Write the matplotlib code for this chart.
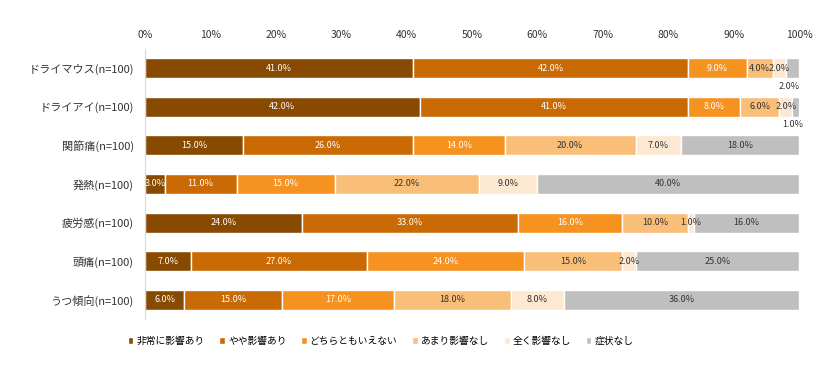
import numpy as np
import matplotlib.pyplot as plt

plt.rcParams['font.family'] = ['Noto Sans CJK JP', 'DejaVu Sans']

# rows (top to bottom)
rows = ['ドライマウス(n=100)', 'ドライアイ(n=100)', '関節痛(n=100)', '発熱(n=100)',
        '疲労感(n=100)', '頭痛(n=100)', 'うつ傾向(n=100)']
series = ['非常に影響あり', 'やや影響あり', 'どちらともいえない', 'あまり影響なし', '全く影響なし', '症状なし']

very = [41, 42, 15, 3, 24, 7, 6]
some = [42, 41, 26, 11, 33, 27, 15]
neither = [9, 8, 14, 15, 16, 24, 17]
little = [4, 6, 20, 22, 10, 15, 18]
none = [2, 2, 7, 9, 1, 2, 8]
nosym = [2, 1, 18, 40, 16, 25, 36]

colors = ['#874A00', '#C96A05', '#F59220', '#F9BE78', '#FDE8D2', '#BFBFBF']
txt_colors = ['white', 'white', 'white', '#333333', '#333333', '#333333']

data = np.array([very, some, neither, little, none, nosym], dtype=float)

fig = plt.figure(figsize=(8.4, 3.65), dpi=100)
ax = fig.add_axes([0.1726, 0.1252, 0.7786, 0.7414])

y = np.arange(len(rows))
left = np.zeros(len(rows))
for i, name in enumerate(series):
    ax.barh(y, data[i], left=left, height=0.52, color=colors[i],
            edgecolor='white', linewidth=1, label=name)
    for j in range(len(rows)):
        v = data[i][j]
        cx = left[j] + v / 2
        if i == len(series) - 1 and v <= 2:
            # small last segment: label below the bar
            ax.text(left[j] + v / 2 - 0.5, y[j] + 0.47, f'{v:.1f}%', ha='center', va='center',
                    fontsize=6.5, color='#333333')
        else:
            ax.text(cx, y[j], f'{v:.1f}%', ha='center', va='center',
                    fontsize=6.5, color=txt_colors[i])
    left += data[i]

ax.set_xlim(0, 100)
ax.set_ylim(len(rows) - 0.5, -0.5)
ax.set_yticks(y)
ax.set_yticklabels(rows, fontsize=8)
ax.set_xticks(np.arange(0, 101, 10))
ax.set_xticklabels([f'{t}%' for t in range(0, 101, 10)], fontsize=7.5)
ax.xaxis.tick_top()
ax.tick_params(length=0, pad=8, colors='#333333')
ax.tick_params(axis='x', pad=6)
for s in ['top', 'right', 'bottom']:
    ax.spines[s].set_visible(False)
ax.spines['left'].set_color('#D9D9D9')

ax.legend(loc='center', bbox_to_anchor=(0.36, -0.08), ncol=6, frameon=False,
          fontsize=7, handlelength=0.6, handleheight=0.6, handletextpad=0.3,
          columnspacing=1.5)

fig.savefig('out.png', dpi=100)
